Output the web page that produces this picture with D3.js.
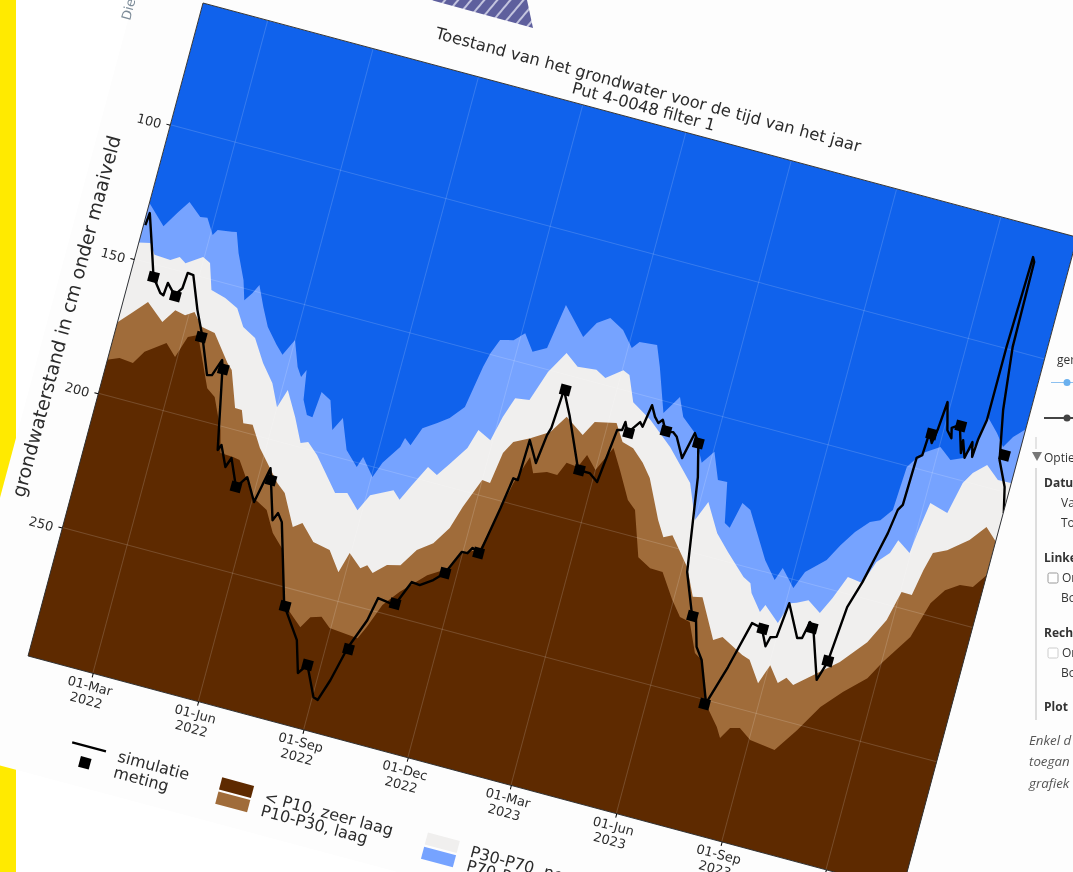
<!DOCTYPE html>
<html>
<head>
<meta charset="utf-8">
<title>Toestand van het grondwater</title>
<script src="https://cdn.jsdelivr.net/npm/d3@7"></script>
<style>
html, body { margin: 0; padding: 0; background: #fff; overflow: hidden; }
svg { display: block; }
text { font-family: "DejaVu Sans", sans-serif; fill: #2b2b2b; }
.panel text { font-family: "Open Sans", sans-serif; font-size: 12px; fill: #333; }
.panel text.kop { font-weight: 700; }
.panel text.noot { font-style: italic; font-size: 13.3px; fill: #555; }
</style>
</head>
<body>
<svg id="chart" width="1073" height="872"></svg>
<script>
// all series: [days since 01-Mar-2022, cm below ground level]
const p90Top = [[-57,128.9],[-40,135.9],[-31,129.6],[-24,125.1],[-12,129.3],[-6,128.9],[2,134.4],[5,132.2],[17,131.5],[21,131.1],[27,138.2],[37,147.2],[42,154.1],[47,150.9],[51,147.4],[59,154.7],[67,161.2],[78,166.6],[85,169.5],[92,163.2],[100,172.3],[105,175.5],[108,172.5],[112,183.2],[118,188.1],[123,188.4],[125,178.8],[134,180.8],[142,191.0],[148,185.8],[158,196.6],[170,201.6],[173,197.5],[185,203.6],[190,197.7],[201,190.6],[203,187.0],[209,189.0],[215,182.0],[226,178.8],[235,175.9],[245,170.7],[251,155.1],[254,149.6],[259,144.1],[270,142.9],[278,139.4],[288,145.2],[299,142.5],[305,125.8],[326,135.3],[334,129.2],[344,126.2],[357,129.2],[368,134.6],[373,131.8],[388,131.2],[395,138.6],[408,154.3],[418,147.2],[425,153.8],[438,158.3],[450,168.0],[458,163.0],[467,172.5],[475,172.3],[482,186.8],[487,188.0],[492,178.2],[500,179.9],[523,195.9],[535,201.9],[539,197.0],[552,203.0],[558,196.3],[573,190.1],[581,183.7],[590,177.8],[600,172.9],[608,171.3],[616,166.6],[617,158.0],[618,150.4],[624,146.3],[628,144.0],[641,140.3],[652,143.9],[662,142.0],[670,135.5],[673,125.4],[684,130.2],[692,134.5],[698,130.1],[708,125.6]];
const p70Top = [[-57,143.9],[-47,143.0],[-41,146.7],[-27,147.0],[-20,145.1],[-14,146.7],[-1,142.9],[6,144.4],[13,153.6],[26,155.1],[38,157.5],[47,163.5],[59,166.2],[71,174.2],[83,180.3],[92,188.2],[97,181.2],[109,190.0],[119,198.5],[125,197.4],[135,201.1],[158,212.6],[168,211.5],[180,216.5],[187,210.1],[205,206.2],[212,209.0],[219,202.7],[228,194.9],[237,196.9],[245,191.9],[256,184.7],[261,177.4],[273,179.8],[278,170.6],[284,162.9],[296,162.2],[305,150.8],[316,142.4],[328,146.2],[344,145.5],[353,147.5],[366,143.1],[372,144.2],[381,153.3],[399,157.9],[421,165.5],[445,176.1],[457,188.5],[464,181.0],[478,191.0],[491,196.6],[509,203.8],[516,205.3],[519,208.6],[530,214.4],[533,211.5],[547,216.6],[553,208.5],[558,207.8],[567,205.8],[579,209.2],[586,202.9],[594,194.1],[607,194.8],[614,186.2],[623,181.8],[627,176.6],[639,180.0],[641,172.3],[645,160.7],[661,162.6],[667,150.7],[673,146.3],[683,142.2],[695,146.4],[708,146.2]];
const p30Top = [[-57,173.8],[-47,169.0],[-36,163.7],[-20,169.3],[-12,164.0],[-3,164.8],[4,162.8],[13,167.3],[25,168.2],[42,177.5],[47,179.5],[58,192.4],[64,192.5],[68,196.9],[76,196.6],[87,204.0],[109,214.6],[117,217.3],[131,228.4],[138,226.1],[151,231.7],[166,232.9],[178,239.8],[183,232.1],[195,236.4],[200,234.7],[206,236.9],[216,232.8],[227,231.6],[237,224.8],[249,220.9],[259,214.1],[265,205.6],[275,194.4],[282,194.7],[286,183.1],[292,178.3],[305,175.4],[320,171.4],[330,164.6],[347,169.4],[354,163.8],[372,162.1],[381,168.1],[391,169.3],[402,173.5],[411,178.1],[427,191.9],[435,197.4],[442,195.9],[461,205.6],[472,215.4],[480,214.6],[498,228.5],[505,226.6],[525,231.0],[532,232.0],[544,239.3],[550,231.9],[560,237.4],[566,234.8],[573,236.7],[587,231.4],[606,224.3],[624,214.9],[635,205.4],[641,194.3],[650,194.4],[654,184.7],[658,177.8],[669,175.5],[685,169.9],[696,163.8],[708,168.5]];
const p10Top = [[-57,187.6],[-47,185.8],[-35,186.3],[-28,181.3],[-12,176.2],[-2,180.3],[4,172.1],[12,170.5],[22,179.8],[31,188.1],[39,190.5],[51,201.5],[56,209.4],[67,209.6],[73,210.0],[92,221.7],[106,224.9],[116,232.3],[128,237.3],[140,255.6],[159,262.5],[165,258.1],[174,256.9],[183,260.0],[208,261.0],[213,256.2],[221,247.1],[232,241.0],[251,232.6],[268,228.0],[274,221.7],[288,218.9],[293,209.8],[301,192.6],[309,182.0],[315,187.3],[326,185.6],[335,185.7],[340,180.6],[350,181.0],[355,176.0],[365,180.4],[375,171.1],[385,178.1],[398,187.8],[406,190.6],[419,206.7],[431,209.4],[442,209.6],[456,218.4],[466,223.6],[475,224.4],[486,234.7],[493,236.5],[508,252.4],[520,258.4],[525,261.9],[531,257.5],[539,256.6],[550,259.8],[572,261.0],[586,252.0],[600,241.8],[615,234.5],[632,227.4],[641,220.3],[658,209.1],[667,195.5],[676,189.6],[687,186.4],[698,185.9],[708,179.6]];
const simulatie = [[-55,137.2],[-54,132.6],[-46,142.8],[-37,154.5],[-28,159.4],[-25,159.9],[-24,155.2],[-16,158.8],[-11,155.7],[-10,149.9],[-5,150.1],[6,161.9],[16,170.8],[28,183.6],[32,183.1],[37,176.9],[39,179.6],[53,208.6],[55,206.5],[63,213.8],[66,210.1],[76,219.8],[83,215.3],[94,223.3],[100,210.0],[113,227.9],[116,224.9],[121,227.7],[141,256.3],[159,267.3],[167,278.6],[173,274.9],[185,285.6],[189,286.1],[195,278.1],[202,265.3],[212,253.8],[216,245.1],[231,246.0],[240,236.4],[247,236.7],[257,233.7],[265,230.2],[274,221.3],[279,221.2],[282,218.9],[289,220.0],[296,202.5],[300,190.9],[304,191.1],[305,176.1],[315,183.5],[318,172.8],[320,169.9],[322,155.5],[332,163.8],[351,182.0],[361,182.0],[369,184.4],[374,164.5],[378,164.0],[379,160.9],[383,164.5],[391,159.6],[394,161.0],[397,152.6],[402,156.4],[406,158.2],[409,156.7],[414,160.6],[420,160.0],[424,161.3],[433,168.2],[438,158.3],[443,161.5],[450,173.3],[462,207.3],[476,222.5],[479,222.1],[486,232.4],[493,236.5],[506,251.1],[516,236.5],[526,219.0],[535,219.8],[542,225.8],[544,222.2],[549,221.5],[552,208.6],[566,220.0],[570,219.5],[573,213.2],[577,215.0],[591,232.7],[596,225.5],[600,204.6],[607,194.5],[614,181.0],[617,175.1],[620,166.1],[623,163.9],[624,146.3],[628,144.8],[629,136.4],[633,139.7],[635,134.6],[637,124.0],[643,133.8],[648,136.2],[646,132.6],[652,130.8],[659,140.5],[658,135.8],[663,141.8],[666,135.6],[669,140.8],[670,134.4],[673,126.6],[673,99.3],[675,65.7],[677,67.3],[678,98.8],[684,121.6],[692,139.3],[702,148.2],[707,157.3]];
const meting = [[-37,154.5],[-15,159.1],[15,170.9],[40,180.0],[76,219.7],[103,214.1],[142,256.6],[173,274.9],[203,265.6],[231,245.5],[265,230.2],[288,220.1],[323,155.4],[352,181.9],[384,164.4],[414,160.3],[443,161.5],[476,222.1],[505,251.5],[536,220.0],[576,215.1],[596,225.1],[631,136.6],[653,131.1],[695,137.2]];

const yTicks = [100, 150, 200, 250];
const xTicks = [new Date(2022,2,1), new Date(2022,5,1), new Date(2022,8,1), new Date(2022,11,1),
                new Date(2023,2,1), new Date(2023,5,1), new Date(2023,8,1), new Date(2023,11,1)];

const kleuren = { p90: "#1062ec", p70: "#76a3ff", p30: "#f0efee", p10: "#a06c3a", laag: "#5e2a00" };
const titel = ["Toestand van het grondwater voor de tijd van het jaar", "Put 4-0048 filter 1"];
const legendaBanden = [
	{ u: 219, namen: ["< P10, zeer laag", "P10-P30, laag"], kleur: [kleuren.laag, kleuren.p10] },
	{ u: 432, namen: ["P30-P70, normaal", "P70-P90, hoog"], kleur: [kleuren.p30, kleuren.p70] }
];

var width = 905, height = 676;
var svg = d3.select("#chart");

// page behind the rotated screenshot
svg.append("rect").attr("width", 16).attr("height", 872).attr("fill", "#ffea00");

var defs = svg.append("defs");
var hatch = defs.append("pattern").attr("id", "hatch").attr("patternUnits", "userSpaceOnUse")
	.attr("width", 10).attr("height", 10).attr("patternTransform", "rotate(40)");
hatch.append("rect").attr("width", 10).attr("height", 10).attr("fill", "#5e5f9d");
hatch.append("rect").attr("width", 2).attr("height", 10).attr("fill", "#c3c4de");
defs.append("clipPath").attr("id", "plotClip").append("rect").attr("width", width).attr("height", height);

var chart = svg.append("g").attr("transform", "translate(203,3) rotate(15)");
chart.append("rect").attr("x", -68).attr("y", -300).attr("width", 1500).attr("height", 1089).attr("fill", "#fdfdfd");

var x = d3.scaleTime()
	.domain([new Date(2022,0,3,12), new Date(2024,1,5,14)])
	.range([0, width]);
var y = d3.scaleLinear().domain([54.7, 297.8]).range([0, height]);
var datum = d => d3.timeHour.offset(new Date(2022,2,1), Math.round(d * 24));

var plot = chart.append("g").attr("clip-path", "url(#plotClip)");
plot.append("rect").attr("width", width).attr("height", height).attr("fill", kleuren.p90);

var area = d3.area().x(d => x(datum(d[0]))).y0(height).y1(d => y(d[1]));
[[p90Top, kleuren.p70], [p70Top, kleuren.p30], [p30Top, kleuren.p10], [p10Top, kleuren.laag]].forEach(b => {
	plot.append("path").attr("d", area(b[0])).attr("fill", b[1]);
});

// grid
plot.selectAll(".gv").data(xTicks).enter().append("line")
	.attr("x1", d => x(d)).attr("x2", d => x(d)).attr("y1", 0).attr("y2", height)
	.attr("stroke", "#fff").attr("stroke-opacity", 0.16);
plot.selectAll(".gh").data(yTicks).enter().append("line")
	.attr("y1", d => y(d)).attr("y2", d => y(d)).attr("x1", 0).attr("x2", width)
	.attr("stroke", "#fff").attr("stroke-opacity", 0.16);

chart.append("rect").attr("width", width).attr("height", height)
	.attr("fill", "none").attr("stroke", "#333").attr("stroke-width", 0.9);

// axes
var xAxis = chart.append("g").attr("transform", `translate(0,${height})`)
	.call(d3.axisBottom(x).tickValues(xTicks).tickSize(4).tickPadding(4).tickFormat(d3.timeFormat("%d-%b")));
xAxis.select(".domain").remove();
xAxis.selectAll("text").attr("font-size", 13).attr("font-family", "DejaVu Sans")
	.each(function (d) {
		d3.select(this).append("tspan").attr("x", 0).attr("dy", "1.15em").text(d3.timeFormat("%Y")(d));
	});
var yAxis = chart.append("g")
	.call(d3.axisLeft(y).tickValues(yTicks).tickSize(4).tickPadding(5));
yAxis.select(".domain").remove();
yAxis.selectAll("text").attr("font-size", 13).attr("font-family", "DejaVu Sans").attr("dy", "0.45em");

chart.append("text").attr("transform", `translate(-51,${height / 2}) rotate(-90)`)
	.attr("text-anchor", "middle").attr("dy", "0.35em").attr("font-size", 18.9)
	.text("grondwaterstand in cm onder maaiveld");

chart.selectAll(".titel").data(titel).enter().append("text")
	.attr("x", width / 2).attr("y", (d, i) => -26 + i * 17.5)
	.attr("text-anchor", "middle").attr("font-size", 16.3).text(d => d);

// simulation and measurements
var line = d3.line().x(d => x(datum(d[0]))).y(d => y(d[1]));
plot.append("path").attr("d", line(simulatie)).attr("fill", "none")
	.attr("stroke", "#000").attr("stroke-width", 2.4).attr("stroke-linejoin", "round");
plot.selectAll(".meting").data(meting).enter().append("path")
	.attr("d", d3.symbol(d3.symbolSquare, 110))
	.attr("transform", d => `translate(${x(datum(d[0]))},${y(d[1])})`)
	.attr("fill", "#000");

// legend
var legend = chart.append("g").attr("font-size", 16);
legend.append("line").attr("x1", 65).attr("x2", 100).attr("y1", 748).attr("y2", 748)
	.attr("stroke", "#000").attr("stroke-width", 2.2);
legend.append("rect").attr("x", 77).attr("y", 759).attr("width", 11).attr("height", 11).attr("fill", "#000");
["simulatie", "meting"].forEach((t, i) => {
	legend.append("text").attr("x", 113).attr("y", 749 + i * 16.5).attr("dy", "0.35em").attr("font-size", 16).text(t);
});
legendaBanden.forEach(g => {
	g.namen.forEach((t, i) => {
		legend.append("rect").attr("x", g.u).attr("y", 743 + i * 14.7).attr("width", 33).attr("height", 12.5).attr("fill", g.kleur[i]);
		legend.append("text").attr("x", g.u + 46).attr("y", 750 + i * 14.5).attr("dy", "0.35em").attr("font-size", 16).text(t);
	});
});

// bits of the surrounding page
svg.append("polygon").attr("points", "431,0 527,0 533,28").attr("fill", "url(#hatch)");
svg.append("text").attr("transform", "translate(130,21) rotate(-75)").attr("font-size", 13)
	.style("fill", "#7d8c99").text("Die");

var panel = svg.append("g").attr("class", "panel");
const panelTekst = [
	["ger", 1057, 364, ""], ["Optie", 1044, 462, ""], ["Datu", 1044, 487, "kop"], ["Va", 1061, 507, ""], ["To", 1061, 527, ""],
	["Linke", 1044, 562, "kop"], ["Or", 1062, 582, ""], ["Bo", 1061, 602, ""], ["Rech", 1044, 637, "kop"], ["Or", 1062, 657, ""],
	["Bo", 1061, 677, ""], ["Plot", 1044, 711, "kop"], ["Enkel d", 1029, 745, "noot"], ["toegan", 1029, 766, "noot"], ["grafiek", 1029, 788, "noot"]
];
panel.selectAll("text").data(panelTekst).enter().append("text")
	.attr("x", d => d[1]).attr("y", d => d[2]).attr("class", d => d[3]).text(d => d[0]);
panel.append("line").attr("x1", 1051).attr("x2", 1073).attr("y1", 382.5).attr("y2", 382.5).attr("stroke", "#8cc0f0");
panel.append("circle").attr("cx", 1067).attr("cy", 382.5).attr("r", 3.5).attr("fill", "#6ab0ee");
panel.append("line").attr("x1", 1044).attr("x2", 1073).attr("y1", 418).attr("y2", 418).attr("stroke", "#444").attr("stroke-width", 2);
panel.append("circle").attr("cx", 1067).attr("cy", 418).attr("r", 3.5).attr("fill", "#444");
panel.append("polygon").attr("points", "1032,452 1042,452 1037,461").attr("fill", "#777");
panel.append("line").attr("x1", 1036).attr("x2", 1036).attr("y1", 468).attr("y2", 720).attr("stroke", "#ddd").attr("stroke-width", 2);
panel.append("line").attr("x1", 1036).attr("x2", 1036).attr("y1", 437).attr("y2", 449).attr("stroke", "#e4e4e4").attr("stroke-width", 2);
[[1048, 573, "#999"], [1048, 648, "#ccc"]].forEach(c => {
	panel.append("rect").attr("x", c[0]).attr("y", c[1]).attr("width", 10).attr("height", 10).attr("rx", 1.5)
		.attr("fill", "#fff").attr("stroke", c[2]);
});

svg.style("filter", "blur(0.6px)");
</script>
</body>
</html>
